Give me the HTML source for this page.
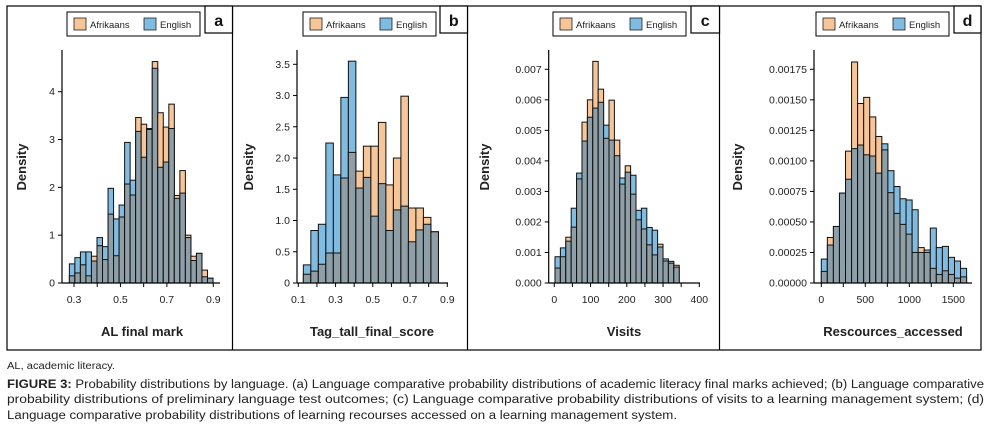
<!DOCTYPE html>
<html><head><meta charset="utf-8"><style>
html,body{margin:0;padding:0;background:#fff;}
svg{display:block;font-family:"Liberation Sans",sans-serif;}
</style></head><body>
<svg id="fig" width="994" height="431" viewBox="0 0 994 431">
<rect x="7" y="6" width="974" height="344" fill="none" stroke="#000" stroke-width="1.2"/>
<line x1="232.5" y1="6" x2="232.5" y2="350" stroke="#000" stroke-width="1.2"/>
<line x1="467.5" y1="6" x2="467.5" y2="350" stroke="#000" stroke-width="1.2"/>
<line x1="719.5" y1="6" x2="719.5" y2="350" stroke="#000" stroke-width="1.2"/>
<text x="7" y="369" font-size="10" fill="#222" textLength="108" lengthAdjust="spacingAndGlyphs">AL, academic literacy.</text>
<g font-size="11.5" fill="#222">
<text x="7" y="388" textLength="977" lengthAdjust="spacingAndGlyphs"><tspan font-weight="bold">FIGURE 3:</tspan> Probability distributions by language. (a) Language comparative probability distributions of academic literacy final marks achieved; (b) Language comparative</text>
<text x="7" y="403" textLength="977" lengthAdjust="spacingAndGlyphs">probability distributions of preliminary language test outcomes; (c) Language comparative probability distributions of visits to a learning management system; (d)</text>
<text x="7" y="419" textLength="670" lengthAdjust="spacingAndGlyphs">Language comparative probability distributions of learning recourses accessed on a learning management system.</text>
</g>
</svg>
<script>
// ---- Panel a data ----
const aBinStart = 0.28, aBinWidth = 0.0238;
const aAfrikaans = [0.15,0.21,0.38,0.15,0.56,0.78,0.49,1.44,0.57,1.38,2.07,1.84,3.46,3.32,3.21,4.63,3.56,3.26,3.74,1.83,2.35,1.0,0.56,0.62,0.27,0.1];
const aEnglish   = [0.40,0.53,0.65,0.65,0.46,0.95,0.76,1.98,1.34,1.63,2.94,2.15,3.17,2.63,3.23,4.49,2.42,2.53,3.23,1.77,1.88,0.95,0.47,0.62,0.13,0.1];
const aYTicks = [0,1,2,3,4];
const aYLabels = ["0","1","2","3","4"];
const aXTicks = [0.3,0.4,0.5,0.6,0.7,0.8,0.9];
const aXLabels = ["0.3","","0.5","","0.7","","0.9"];
// ---- Panel b data ----
const bBinStart = 0.127, bBinWidth = 0.0403;
const bAfrikaans = [0.14,0.19,0.30,0.48,0.48,1.68,2.09,1.79,2.19,2.19,2.57,1.57,2.0,2.99,1.20,1.20,1.05,0.82];
const bEnglish   = [0.29,0.84,0.94,2.24,1.73,2.97,3.55,1.52,1.69,1.07,1.59,0.84,1.17,1.23,0.66,0.85,0.94,0.82];
const bYTicks = [0,0.5,1,1.5,2,2.5,3,3.5];
const bYLabels = ["0","0.5","1.0","1.5","2.0","2.5","3.0","3.5"];
const bXTicks = [0.1,0.2,0.3,0.4,0.5,0.6,0.7,0.8,0.9];
const bXLabels = ["0.1","","0.3","","0.5","","0.7","","0.9"];
// ---- Panel c data ----
const cBinStart = 1.9, cBinWidth = 14.9;
const cAfrikaans = [0.00049,0.00086,0.0015,0.00183,0.00341,0.00527,0.0060,0.00726,0.00635,0.00474,0.00599,0.00468,0.00324,0.00384,0.00291,0.00207,0.00177,0.00125,0.00092,0.00127,0.00072,0.00065,0.00058];
const cEnglish   = [0.00086,0.00115,0.00137,0.00245,0.0036,0.00465,0.00543,0.00573,0.00592,0.00517,0.00468,0.00417,0.00344,0.00363,0.00353,0.00238,0.00245,0.00182,0.00173,0.00118,0.00079,0.00071,0.00052];
const cYTicks = [0,0.001,0.002,0.003,0.004,0.005,0.006,0.007];
const cYLabels = ["0.000","0.001","0.002","0.003","0.004","0.005","0.006","0.007"];
const cXTicks = [0,50,100,150,200,250,300,350,400];
const cXLabels = ["0","","100","","200","","300","","400"];
// ---- Panel d data ----
const dBinStart = 0, dBinWidth = 68.8;
const dAfrikaans = [0.000095,0.000373,0.000463,0.000736,0.00108,0.00181,0.00147,0.00152,0.00136,0.0012,0.00109,0.00074,0.00057,0.00048,0.00040,0.00025,0.00029,0.00025,0.00012,0.00007,0.00010,0.00007,0.00004,0.00005];
const dEnglish   = [0.000196,0.000311,0.000463,0.000736,0.00085,0.0011,0.00113,0.00105,0.00104,0.0009,0.00114,0.00092,0.00079,0.00069,0.00068,0.0006,0.00025,0.00027,0.00045,0.00029,0.0003,0.00021,0.00018,0.00012];
const dYTicks = [0,0.00025,0.0005,0.00075,0.001,0.00125,0.0015,0.00175];
const dYLabels = ["0.00000","0.00025","0.00050","0.00075","0.00100","0.00125","0.00150","0.00175"];
const dXTicks = [0,250,500,750,1000,1250,1500];
const dXLabels = ["0","","500","","1000","","1500"];

const NS = "http://www.w3.org/2000/svg";
const svg = document.getElementById('fig');
const ORANGE = "#f6c598", BLUE = "#80bce2", GRAY = "#8e9fa8";

function mk(tag, attrs, parent){
  const e = document.createElementNS(NS, tag);
  for (const k in attrs) e.setAttribute(k, attrs[k]);
  (parent||svg).appendChild(e);
  return e;
}

function panel(p){
  const g = mk('g', {});
  
  
  const xs = v => p.px0 + (v - p.x0) * (p.px1 - p.px0) / (p.x1 - p.x0);
  const ys = v => p.py0 - v * (p.py0 - p.pyTop) / p.yTopVal;
  // bars
  for (let i = 0; i < p.afr.length; i++){
    const a = p.afr[i], e = p.eng[i];
    const xl = xs(p.binStart + i * p.binWidth), xr = xs(p.binStart + (i + 1) * p.binWidth);
    const hi = Math.max(a, e), lo = Math.min(a, e);
    const col = a >= e ? ORANGE : BLUE;
    const r1 = mk('rect', {x: xl, y: ys(hi), width: xr - xl, height: ys(0) - ys(hi), fill: col, stroke: "#111", "stroke-width": 1}, g);
    
    
    const r2 = mk('rect', {x: xl, y: ys(lo), width: xr - xl, height: ys(0) - ys(lo), fill: GRAY, stroke: "#111", "stroke-width": 1}, g);
    
    
  }
  // axes
  const ya = mk('line', {x1: p.axX, y1: p.axTop, x2: p.axX, y2: p.py0, stroke: "#000", "stroke-width": 1.2}, g);
  
  
  const xa = mk('line', {x1: p.axX, y1: p.py0, x2: p.axRight, y2: p.py0, stroke: "#000", "stroke-width": 1.2}, g);
  
  
  p.yTicks.forEach((v, i) => {
    const y = ys(v);
    mk('line', {x1: p.axX - 4, y1: y, x2: p.axX, y2: y, stroke: "#000", "stroke-width": 1}, g);
    const t = mk('text', {x: p.axX - 7, y: y + 3.5, "font-size": 10.5, "text-anchor": "end", fill: "#222"}, g);
    
    
    t.textContent = p.yLabels[i];
  });
  p.xTicks.forEach((v, i) => {
    const x = xs(v);
    mk('line', {x1: x, y1: p.py0, x2: x, y2: p.py0 + 4, stroke: "#000", "stroke-width": 1}, g);
    if (p.xLabels[i]) {
      const t = mk('text', {x: x, y: p.py0 + 20, "font-size": 10.5, "text-anchor": "middle", fill: "#222"}, g);
      
      
      t.textContent = p.xLabels[i];
    }
  });
  const xt = mk('text', {x: p.xTitleX, y: 336, "font-size": 13, "font-weight": "bold", "text-anchor": "middle", fill: "#222"}, g);
  
  
  xt.textContent = p.xTitle;
  const yt = mk('text', {x: 0, y: 0, "font-size": 13, "font-weight": "bold", "text-anchor": "middle", fill: "#222", transform: `translate(${p.yTitleX},167) rotate(-90)`}, g);
  
  
  yt.textContent = "Density";
  // legend
  const lg = mk('g', {}, g);
  
  
  mk('rect', {x: p.legX, y: 12, width: 133, height: 24, fill: "#fff", stroke: "#000", "stroke-width": 1}, lg);
  mk('rect', {x: p.legX + 7, y: 18, width: 12, height: 12, fill: ORANGE, stroke: "#222", "stroke-width": 0.8}, lg);
  const l1 = mk('text', {x: p.legX + 23, y: 28, "font-size": 9.5, fill: "#222"}, lg);
  
  
  l1.textContent = "Afrikaans";
  mk('rect', {x: p.legX + 77, y: 18, width: 12, height: 12, fill: BLUE, stroke: "#222", "stroke-width": 0.8}, lg);
  const l2 = mk('text', {x: p.legX + 93, y: 28, "font-size": 9.5, fill: "#222"}, lg);
  
  
  l2.textContent = "English";
  // panel label box
  const lb = mk('rect', {x: p.boxX, y: 6, width: p.boxR - p.boxX, height: 27, fill: "#fff", stroke: "#000", "stroke-width": 1.2}, g);
  
  
  const lt = mk('text', {x: (p.boxX + p.boxR) / 2, y: 26, "font-size": 16, "font-weight": "bold", "text-anchor": "middle", fill: "#111"}, g);
  
  
  lt.textContent = p.id;
}

panel({id:"a", afr:aAfrikaans, eng:aEnglish, binStart:aBinStart, binWidth:aBinWidth,
  x0:0.3, x1:0.9, px0:74, px1:213.3, py0:283, pyTop:91.7, yTopVal:4, axX:62, axTop:50, axRight:220,
  yTicks:aYTicks, yLabels:aYLabels, xTicks:aXTicks, xLabels:aXLabels, xTitle:"AL final mark", xTitleX:142, yTitleX:26,
  legX:67, boxX:205, boxR:232.5});
panel({id:"b", afr:bAfrikaans, eng:bEnglish, binStart:bBinStart, binWidth:bBinWidth,
  x0:0.1, x1:0.9, px0:298.3, px1:447.3, py0:283, pyTop:64.3, yTopVal:3.5, axX:297, axTop:50, axRight:448,
  yTicks:bYTicks, yLabels:bYLabels, xTicks:bXTicks, xLabels:bXLabels, xTitle:"Tag_tall_final_score", xTitleX:372, yTitleX:253,
  legX:303, boxX:440, boxR:467.5});
panel({id:"c", afr:cAfrikaans, eng:cEnglish, binStart:cBinStart, binWidth:cBinWidth,
  x0:0, x1:400, px0:554.3, px1:699.3, py0:283, pyTop:69.3, yTopVal:0.007, axX:548.7, axTop:50, axRight:700,
  yTicks:cYTicks, yLabels:cYLabels, xTicks:cXTicks, xLabels:cXLabels, xTitle:"Visits", xTitleX:624, yTitleX:489,
  legX:553, boxX:691, boxR:719.5});
panel({id:"d", afr:dAfrikaans, eng:dEnglish, binStart:dBinStart, binWidth:dBinWidth,
  x0:0, x1:1500, px0:821.3, px1:953.3, py0:283, pyTop:69.3, yTopVal:0.00175, axX:814, axTop:50, axRight:972,
  yTicks:dYTicks, yLabels:dYLabels, xTicks:dXTicks, xLabels:dXLabels, xTitle:"Rescources_accessed", xTitleX:893, yTitleX:742,
  legX:816, boxX:954, boxR:981});
</script>
</body></html>
